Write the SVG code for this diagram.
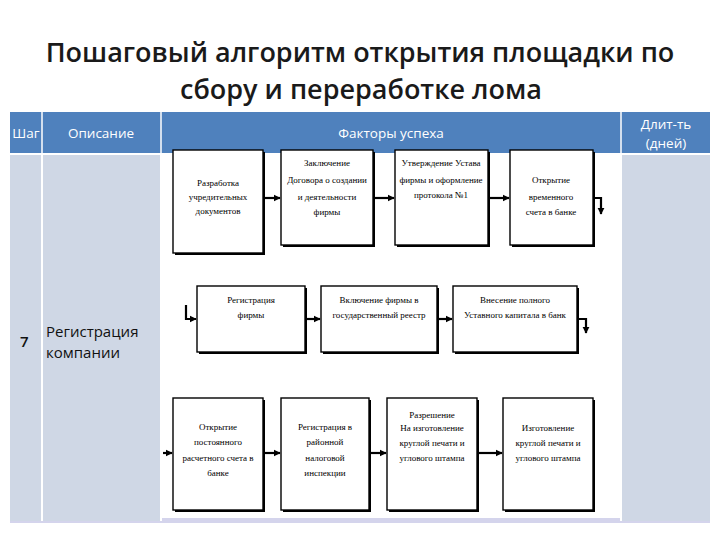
<svg xmlns="http://www.w3.org/2000/svg" width="720" height="540" viewBox="0 0 720 540">
<defs>
<style>
.title{font-family:"Open Sans","Liberation Sans",sans-serif;font-weight:600;font-size:27px;fill:#1a1a1a;text-anchor:middle}
.hdr{font-family:"Open Sans","Liberation Sans",sans-serif;font-size:13.5px;fill:#ffffff;text-anchor:middle}
.body{font-family:"Open Sans","Liberation Sans",sans-serif;font-size:15px;fill:#111111}
.box{fill:#ffffff;stroke:#000000;stroke-width:1.4}
.shadow{fill:#000000}
.bt{font-family:"Liberation Serif","Times New Roman",serif;font-size:9px;fill:#000000;text-anchor:middle}
.conn{stroke:#000000;stroke-width:2.2;fill:none}
</style>
<marker id="ah" viewBox="0 0 10 10" refX="9" refY="5" markerWidth="3.2" markerHeight="3.6" orient="auto" markerUnits="strokeWidth">
<path d="M0,0 L10,5 L0,10 Z" fill="#000000"/>
</marker>
</defs>
<rect width="720" height="540" fill="#ffffff"/>
<g id="title">
<text class="title" x="360" y="62">Пошаговый алгоритм открытия площадки по</text>
<text class="title" x="361" y="99">сбору и переработке лома</text>
</g>
<g id="table">
<rect x="10" y="112" width="700" height="41" fill="#4f81bd"/>
<rect x="10" y="155" width="31" height="366" fill="#cfd7e5"/>
<rect x="43" y="155" width="117" height="366" fill="#cfd7e5"/>
<rect x="622" y="155" width="88" height="366" fill="#cfd7e5"/>
<rect x="162" y="518" width="458" height="5" fill="#d4d4ec"/>
<line x1="42" y1="112" x2="42" y2="522" stroke="#ffffff" stroke-width="1.5"/>
<line x1="161" y1="112" x2="161" y2="522" stroke="#ffffff" stroke-width="1.5"/>
<line x1="621" y1="112" x2="621" y2="522" stroke="#ffffff" stroke-width="1.5"/>
<line x1="10" y1="154" x2="710" y2="154" stroke="#ffffff" stroke-width="2"/>
<line x1="10" y1="522" x2="710" y2="522" stroke="#d4d4ec" stroke-width="2"/>
<text class="hdr" x="26" y="138">Шаг</text>
<text class="hdr" x="101" y="138">Описание</text>
<text class="hdr" x="391" y="138">Факторы успеха</text>
<text class="hdr" x="666" y="129">Длит-ть</text>
<text class="hdr" x="666" y="148">(дней)</text>
<text class="body" x="20" y="347" font-weight="600">7</text>
<text class="body" x="46" y="337">Регистрация</text>
<text class="body" x="46" y="358">компании</text>
</g>
<g id="connectors">
<line class="conn" x1="263" y1="198" x2="280" y2="198" marker-end="url(#ah)"/>
<line class="conn" x1="373" y1="198" x2="394" y2="198" marker-end="url(#ah)"/>
<line class="conn" x1="488" y1="198" x2="509" y2="198" marker-end="url(#ah)"/>
<polyline class="conn" points="594,198 601,198 601,214" marker-end="url(#ah)" stroke-width="1.6"/>
<polyline class="conn" points="186,305 186,319 196,319" marker-end="url(#ah)" stroke-width="1.8"/>
<line class="conn" x1="306" y1="319" x2="320" y2="319" marker-end="url(#ah)"/>
<line class="conn" x1="438" y1="319" x2="452" y2="319" marker-end="url(#ah)"/>
<polyline class="conn" points="578,319 586,319 586,333" marker-end="url(#ah)" stroke-width="1.8"/>
<line class="conn" x1="163" y1="453" x2="172" y2="453" marker-end="url(#ah)"/>
<line class="conn" x1="264" y1="453" x2="280" y2="453" marker-end="url(#ah)"/>
<line class="conn" x1="370" y1="453" x2="386" y2="453" marker-end="url(#ah)"/>
<line class="conn" x1="478" y1="453" x2="502" y2="453" marker-end="url(#ah)"/>
</g>
<g id="n1"><rect class="shadow" x="175" y="152" width="90" height="103"/><rect class="box" x="173" y="150" width="90" height="103"/>
<text class="bt" x="218" y="186">Разработка</text><text class="bt" x="218" y="200">учредительных</text><text class="bt" x="218" y="214">документов</text></g>
<g id="n2"><rect class="shadow" x="283" y="152" width="92" height="95"/><rect class="box" x="281" y="150" width="92" height="95"/>
<text class="bt" x="327" y="166">Заключение</text><text class="bt" x="327" y="183">Договора о создании</text><text class="bt" x="327" y="200">и деятельности</text><text class="bt" x="327" y="215">фирмы</text></g>
<g id="n3"><rect class="shadow" x="397" y="152" width="93" height="95"/><rect class="box" x="395" y="150" width="93" height="95"/>
<text class="bt" x="441" y="166">Утверждение Устава</text><text class="bt" x="441" y="183">фирмы и оформление</text><text class="bt" x="441" y="198">протокола №1</text></g>
<g id="n4"><rect class="shadow" x="512" y="152" width="83" height="95"/><rect class="box" x="510" y="150" width="83" height="95"/>
<text class="bt" x="551" y="183">Открытие</text><text class="bt" x="551" y="200">временного</text><text class="bt" x="551" y="215">счета в банке</text></g>
<g id="n5"><rect class="shadow" x="199" y="288" width="108" height="66"/><rect class="box" x="197" y="286" width="108" height="66"/>
<text class="bt" x="251" y="303">Регистрация</text><text class="bt" x="251" y="318">фирмы</text></g>
<g id="n6"><rect class="shadow" x="323" y="288" width="116" height="66"/><rect class="box" x="321" y="286" width="116" height="66"/>
<text class="bt" x="379" y="303">Включение фирмы в</text><text class="bt" x="379" y="318">государственный реестр</text></g>
<g id="n7"><rect class="shadow" x="455" y="288" width="124" height="66"/><rect class="box" x="453" y="286" width="124" height="66"/>
<text class="bt" x="515" y="303">Внесение полного</text><text class="bt" x="515" y="318">Уставного капитала в банк</text></g>
<g id="n8"><rect class="shadow" x="175" y="400" width="90" height="112"/><rect class="box" x="173" y="398" width="90" height="112"/>
<text class="bt" x="218" y="430">Открытие</text><text class="bt" x="218" y="445">постоянного</text><text class="bt" x="218" y="461">расчетного счета в</text><text class="bt" x="218" y="476">банке</text></g>
<g id="n9"><rect class="shadow" x="283" y="400" width="88" height="112"/><rect class="box" x="281" y="398" width="88" height="112"/>
<text class="bt" x="325" y="430">Регистрация в</text><text class="bt" x="325" y="445">районной</text><text class="bt" x="325" y="461">налоговой</text><text class="bt" x="325" y="476">инспекции</text></g>
<g id="n10"><rect class="shadow" x="389" y="400" width="90" height="112"/><rect class="box" x="387" y="398" width="90" height="112"/>
<text class="bt" x="432" y="418">Разрешение</text><text class="bt" x="432" y="431">На изготовление</text><text class="bt" x="432" y="446">круглой печати и</text><text class="bt" x="432" y="461">углового штампа</text></g>
<g id="n11"><rect class="shadow" x="505" y="400" width="90" height="112"/><rect class="box" x="503" y="398" width="90" height="112"/>
<text class="bt" x="548" y="431">Изготовление</text><text class="bt" x="548" y="446">круглой печати и</text><text class="bt" x="548" y="461">углового штампа</text></g>
</svg>
